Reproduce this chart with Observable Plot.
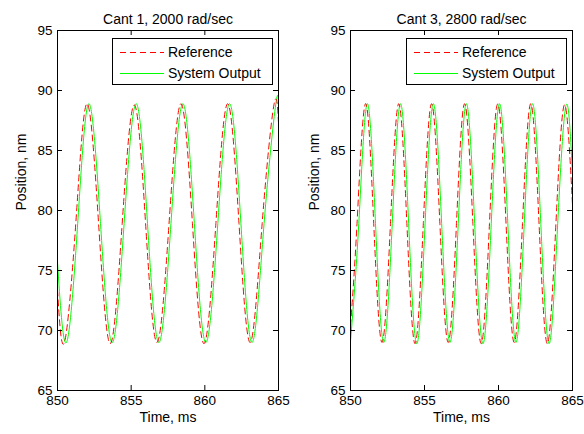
<!DOCTYPE html>
<html>
<head>
<meta charset="utf-8">
<script src="https://cdn.jsdelivr.net/npm/d3@7"></script>
<script src="https://cdn.jsdelivr.net/npm/@observablehq/plot@0.6"></script>
<style>
  html, body { margin: 0; padding: 0; background: white; }
  #wrap { display: flex; width: 584px; height: 434px; }
</style>
</head>
<body>
<div id="wrap"></div>
<script>
// ---- text ----
const titles = ["Cant 1, 2000 rad/sec", "Cant 3, 2800 rad/sec"];
const seriesNames = ["Reference", "System Output"];
const xLabel = "Time, ms";
const yLabel = "Position, nm";
const xTicks = [850, 855, 860, 865];
const yTicks = [65, 70, 75, 80, 85, 90, 95];

// ---- Cant 1, 2000 rad/sec (start, troughs, crossings, peaks, end) ----
const cant1RefT = [850.00, 850.47, 851.24, 852.00, 852.79, 853.58, 854.39, 855.21, 855.98, 856.75, 857.57, 858.38, 859.16, 859.94, 860.75, 861.55, 862.32, 863.08, 863.89, 864.69, 865.00];
const cant1RefY = [73.4, 69.0, 78.9, 88.9, 78.9, 68.9, 78.9, 88.8, 78.9, 69.0, 78.9, 88.9, 78.9, 68.9, 78.9, 88.9, 78.9, 69.0, 78.9, 88.8, 87.3];
const cant1OutT = [850.00, 850.61, 851.37, 852.13, 852.92, 853.71, 854.52, 855.34, 856.11, 856.88, 857.70, 858.51, 859.29, 860.07, 860.88, 861.68, 862.45, 863.21, 864.02, 864.82, 865.00];
const cant1OutY = [75.7, 69.0, 78.9, 88.9, 78.9, 69.0, 78.9, 88.9, 78.9, 69.0, 78.9, 88.9, 78.9, 69.0, 78.9, 88.9, 78.9, 69.0, 78.9, 88.9, 88.3];

// ---- Cant 3, 2800 rad/sec ----
const cant3RefT = [850.00, 850.44, 851.01, 851.57, 852.13, 852.70, 853.26, 853.81, 854.36, 854.92, 855.48, 856.04, 856.60, 857.16, 857.71, 858.27, 858.83, 859.39, 859.95, 860.51, 861.06, 861.62, 862.18, 862.74, 863.30, 863.88, 864.45, 865.00];
const cant3RefY = [70.4, 78.9, 88.9, 78.9, 69.0, 78.9, 88.9, 78.9, 68.9, 78.9, 88.9, 78.9, 69.0, 78.9, 88.9, 78.9, 68.9, 78.9, 88.9, 78.9, 69.0, 78.9, 88.9, 78.9, 68.9, 78.9, 88.8, 80.5];
const cant3OutT = [850.00, 850.56, 851.13, 851.69, 852.25, 852.82, 853.38, 853.93, 854.48, 855.04, 855.60, 856.16, 856.72, 857.28, 857.83, 858.39, 858.95, 859.51, 860.07, 860.63, 861.18, 861.74, 862.30, 862.86, 863.42, 864.00, 864.57, 865.00];
const cant3OutY = [69.1, 78.9, 88.9, 78.9, 69.0, 78.9, 88.9, 78.9, 68.9, 78.9, 88.9, 78.9, 69.0, 78.9, 88.9, 78.9, 68.9, 78.9, 88.9, 78.9, 69.0, 78.9, 88.9, 78.9, 68.9, 78.9, 88.8, 83.0];

const refColor = "#ff0000";
const outColor = "#00ff00";

function panel({title, refT, refY, outT, outY, marginLeft, marginRight, ylabDx}) {
  const ref = refT.map((t, i) => ({t, v: refY[i]}));
  const out = outT.map((t, i) => ({t, v: outY[i]}));
  const W = 292, H = 434, mt = 30, mb = 44;
  const fw = W - marginLeft - marginRight, fh = H - mt - mb;
  const tk = 5;
  const svg = Plot.plot({
    width: W, height: H, marginLeft, marginRight, marginTop: mt, marginBottom: mb,
    style: {fontFamily: "'Liberation Sans', Arial, sans-serif", fontSize: "13.5px", background: "white", color: "black"},
    x: {domain: [850, 865], label: null},
    y: {domain: [65, 95], label: null},
    marks: [
      Plot.line(out, {x: "t", y: "v", stroke: outColor, strokeWidth: 1, curve: "natural", clip: true}),
      Plot.line(ref, {x: "t", y: "v", stroke: refColor, strokeWidth: 1, strokeDasharray: "6,4", curve: "natural", clip: true}),
      Plot.frame({stroke: "black"}),
      Plot.ruleX(xTicks, {x: d => d, insetTop: fh - tk, stroke: "black"}),
      Plot.ruleX(xTicks, {x: d => d, insetBottom: fh - tk, stroke: "black"}),
      Plot.ruleY(yTicks, {y: d => d, insetRight: fw - tk, stroke: "black"}),
      Plot.ruleY(yTicks, {y: d => d, insetLeft: fw - tk, stroke: "black"}),
      Plot.axisX(xTicks, {tickSize: 0, tickPadding: 5, fontSize: 13.5}),
      Plot.axisY(yTicks, {tickSize: 0, tickPadding: 5, fontSize: 13.5}),
      Plot.text([title], {text: d => d, frameAnchor: "top", dy: -16, fontSize: 14}),
      Plot.text([xLabel], {text: d => d, frameAnchor: "bottom", dy: 31, fontSize: 14}),
      Plot.text([yLabel], {text: d => d, frameAnchor: "left", dx: ylabDx, rotate: -90, fontSize: 14})
    ]
  });
  // legend box (MATLAB style, inside the axes, top-right)
  const lw = 160, lh = 46;
  const lx = W - marginRight - 6 - lw, ly = mt + 8;
  const g = d3.select(svg).append("g").attr("font-size", 14).attr("text-anchor", "start");
  g.append("rect").attr("x", lx + 0.5).attr("y", ly + 0.5).attr("width", lw).attr("height", lh)
    .attr("fill", "white").attr("stroke", "black");
  const rows = [
    {name: seriesNames[0], color: refColor, dash: "6,4"},
    {name: seriesNames[1], color: outColor, dash: "none"}
  ];
  rows.forEach((r, i) => {
    const yy = ly + 14 + i * 21;
    g.append("path").attr("d", `M${lx + 8},${yy + 0.5}H${lx + 52}`)
      .attr("fill", "none").attr("stroke", r.color).attr("stroke-width", 1.2)
      .attr("stroke-dasharray", r.dash);
    g.append("text").attr("x", lx + 56).attr("y", yy).attr("dy", "0.35em").attr("fill", "black")
      .attr("text-anchor", "start").text(r.name);
  });
  return svg;
}

const wrap = document.getElementById("wrap");
wrap.appendChild(panel({title: titles[0], refT: cant1RefT, refY: cant1RefY, outT: cant1OutT, outY: cant1OutY, marginLeft: 57, marginRight: 14, ylabDx: -36}));
wrap.appendChild(panel({title: titles[1], refT: cant3RefT, refY: cant3RefY, outT: cant3OutT, outY: cant3OutY, marginLeft: 58, marginRight: 12, ylabDx: -36}));
</script>
</body>
</html>
